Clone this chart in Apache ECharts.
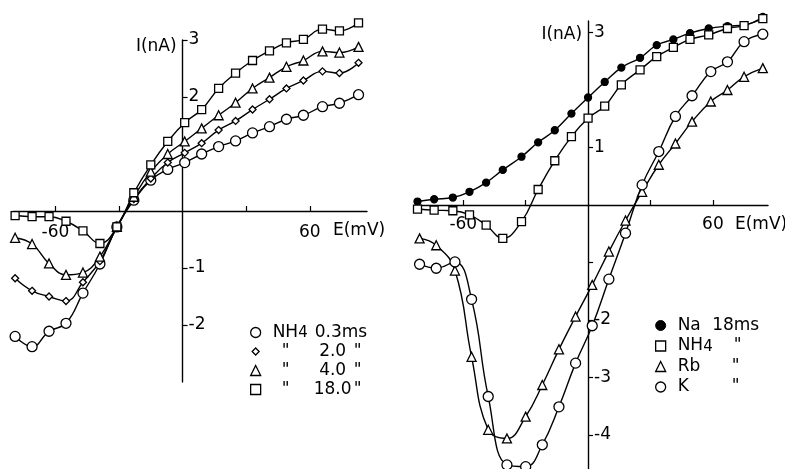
<!DOCTYPE html>
<html>
<head>
<meta charset="utf-8">
<script src="https://cdn.jsdelivr.net/npm/echarts@6/dist/echarts.min.js"></script>
<style>
  html, body { margin: 0; padding: 0; background: #fff; }
  #chart { width: 785px; height: 469px; }
</style>
</head>
<body>
<div id="chart"></div>
<script>
// left panel: NH4 currents at several times after the step
const leftE = [-79, -71, -63, -55, -47, -39, -31, -23, -15, -7, 1, 9, 17, 25, 33, 41, 49, 57, 66, 74, 83];
const nh4_03 = [-2.20, -2.38, -2.11, -1.97, -1.44, -0.93, -0.28, 0.19, 0.54, 0.73, 0.85, 1.00, 1.13, 1.23, 1.37, 1.48, 1.61, 1.68, 1.83, 1.89, 2.04];
const nh4_20 = [-1.18, -1.40, -1.50, -1.58, -1.25, -0.88, -0.28, 0.21, 0.57, 0.85, 1.02, 1.19, 1.42, 1.58, 1.78, 1.96, 2.15, 2.29, 2.45, 2.42, 2.60];
const nh4_40 = [-0.47, -0.58, -0.92, -1.12, -1.08, -0.80, -0.28, 0.25, 0.69, 1.00, 1.22, 1.45, 1.68, 1.90, 2.15, 2.34, 2.53, 2.64, 2.80, 2.78, 2.88];
const nh4_180 = [-0.08, -0.10, -0.10, -0.18, -0.35, -0.57, -0.28, 0.32, 0.81, 1.22, 1.55, 1.78, 2.15, 2.42, 2.64, 2.81, 2.95, 3.01, 3.19, 3.16, 3.30];

// right panel: different ions at 18 ms
const rightE1 = [-82, -74, -65, -57, -49, -41, -32, -24, -16, -8, 0, 8, 16, 25, 33, 41, 49, 58, 67, 75, 84];
const rightE2 = [-81, -73, -64, -56, -48, -39, -30, -22, -14, -6, 2, 10, 18, 26, 34, 42, 50, 59, 67, 75, 84];
const na18 = [0.06, 0.10, 0.13, 0.23, 0.39, 0.61, 0.84, 1.09, 1.30, 1.59, 1.87, 2.14, 2.39, 2.56, 2.78, 2.88, 2.99, 3.07, 3.11, 3.13, 3.27];
const nh4r18 = [-0.07, -0.09, -0.10, -0.17, -0.35, -0.58, -0.29, 0.27, 0.77, 1.19, 1.51, 1.72, 2.09, 2.35, 2.58, 2.74, 2.88, 2.96, 3.07, 3.12, 3.24];
const rb18 = [-0.58, -0.70, -1.14, -2.64, -3.91, -4.06, -3.68, -3.13, -2.51, -1.94, -1.39, -0.81, -0.27, 0.23, 0.70, 1.07, 1.45, 1.80, 2.00, 2.23, 2.38];
const k18 = [-1.03, -1.10, -0.99, -1.64, -3.33, -4.52, -4.55, -4.17, -3.51, -2.75, -2.10, -1.29, -0.49, 0.35, 0.93, 1.54, 1.90, 2.32, 2.49, 2.84, 2.97];

// tick / label values
const xTicks = [-60, -30, 30, 60];
const xLabels = [-60, 60];
const leftYTicks = [3, 2, -1, -2];
const leftYLabels = [3, 2, -1, -2];
const rightYTicks = [3, 1, -1, -2, -3, -4];
const rightYLabels = [3, 1, -2, -3, -4];

const FONT = 'DejaVu Sans';
const INK = '#000';
const smallDiamond = 'path://M0,0M10,10M5,1.5L8.5,5L5,8.5L1.5,5Z';

// panel boxes (px) and axis ranges
const panels = [
  { left: 13, top: 40, width: 354, height: 342, xMin: -80, xMax: 87, yMin: -3, yMax: 3 },
  { left: 415, top: 21, width: 353, height: 448.5, xMin: -83.2, xMax: 86.5, yMin: -4.6, yMax: 3.2 },
];

const chart = echarts.init(document.getElementById('chart'));

function makeSeries(name, xs, ys, idx, symbol, size, fill) {
  return {
    name,
    type: 'line',
    xAxisIndex: idx,
    yAxisIndex: idx,
    data: xs.map((x, i) => [x, ys[i]]),
    smooth: 0.45,
    clip: false,
    symbol,
    symbolSize: size,
    showAllSymbol: true,
    lineStyle: { color: INK, width: 1.4 },
    itemStyle: { color: fill, borderColor: INK, borderWidth: 1.3 },
    emphasis: { disabled: true },
  };
}

// axes cross at zero: shift them from the grid edge with offset
function xAxisFor(idx, margin, nameGap) {
  const p = panels[idx];
  return {
    type: 'value',
    gridIndex: idx,
    min: p.xMin,
    max: p.xMax,
    position: 'bottom',
    offset: -p.height * (0 - p.yMin) / (p.yMax - p.yMin),
    axisLine: { onZero: false, lineStyle: { color: INK, width: 1.4 } },
    axisTick: { show: true, inside: true, length: 5, customValues: xTicks, lineStyle: { color: INK, width: 1.2 } },
    axisLabel: { customValues: xLabels, margin, color: INK, fontSize: 17, fontFamily: FONT },
    splitLine: { show: false },
    name: 'E(mV)',
    nameLocation: 'end',
    nameGap,
    nameMoveOverlap: false,
    nameTextStyle: { color: INK, fontSize: 17, fontFamily: FONT, align: 'left', verticalAlign: 'top', padding: [11, 0, 0, 0] },
  };
}

function yAxisFor(idx, ticks, labels, nameGap) {
  const p = panels[idx];
  return {
    type: 'value',
    gridIndex: idx,
    min: p.yMin,
    max: p.yMax,
    position: 'right',
    offset: -p.width * p.xMax / (p.xMax - p.xMin),
    axisLine: { onZero: false, lineStyle: { color: INK, width: 1.4 } },
    axisTick: { show: true, length: 5, customValues: ticks, lineStyle: { color: INK, width: 1.2 } },
    axisLabel: { customValues: labels, margin: 6, color: INK, fontSize: 17, fontFamily: FONT },
    splitLine: { show: false },
    name: 'I(nA)',
    nameLocation: 'end',
    nameGap,
    nameMoveOverlap: false,
    nameTextStyle: { color: INK, fontSize: 17, fontFamily: FONT, align: 'right', verticalAlign: 'middle', padding: [0, 6, 0, 0] },
  };
}

const openStyle = { color: '#fff', borderColor: INK, borderWidth: 1.3 };
const txt = (extra) => Object.assign({ fontSize: 17, fontFamily: FONT, color: INK, lineHeight: 17 }, extra);
const subStyle = { fontSize: 15, fontFamily: FONT, color: INK, lineHeight: 6, verticalAlign: 'bottom' };

const leftLegendText = {
  'NH4 0.3 ms': '{p| }{n|NH}{s|4}{q| }{b|0.3ms}',
  'NH4 2.0 ms': '{a|"}{q| }{b2|2.0}{c|"}',
  'NH4 4.0 ms': '{a|"}{q| }{b2|4.0}{c|"}',
  'NH4 18.0 ms': '{a|"}{q| }{b2|18.0}{c|"}',
};
const rightLegendText = {
  'Na 18 ms': '{p| }{a|Na}{b|18ms}',
  'NH4 18 ms': '{p| }{n|NH}{s|4}{b|"}',
  'Rb 18 ms': '{p| }{a|Rb}{b|"}',
  'K 18 ms': '{p| }{a|K}{b|"}',
};

chart.setOption({
  animation: false,
  backgroundColor: '#fff',
  grid: panels.map((p) => ({
    left: p.left, top: p.top, width: p.width, height: p.height,
    containLabel: false, outerBoundsMode: 'none',
  })),
  xAxis: [xAxisFor(0, 13, -34), xAxisFor(1, 11, -33)],
  yAxis: [
    yAxisFor(0, leftYTicks, leftYLabels, -7),
    yAxisFor(1, rightYTicks, rightYLabels, -14),
  ],
  legend: [
    {
      orient: 'vertical',
      left: 250,
      top: 324,
      padding: 0,
      itemWidth: 10,
      itemHeight: 10,
      itemGap: 2,
      selectedMode: false,
      data: [
        { name: 'NH4 0.3 ms', icon: 'circle', itemStyle: openStyle },
        { name: 'NH4 2.0 ms', icon: smallDiamond, itemStyle: openStyle },
        { name: 'NH4 4.0 ms', icon: 'triangle', itemStyle: openStyle },
        { name: 'NH4 18.0 ms', icon: 'rect', itemStyle: openStyle },
      ],
      formatter: (name) => leftLegendText[name],
      textStyle: {
        fontSize: 17, fontFamily: FONT, color: INK,
        rich: {
          p: txt({ width: 7 }),
          n: txt({}),
          s: subStyle,
          q: txt({ width: 7 }),
          a: txt({ width: 40, align: 'center' }),
          b: txt({}),
          b2: txt({ width: 40, align: 'left' }),
          c: txt({ width: 10, align: 'center' }),
        },
      },
    },
    {
      orient: 'vertical',
      left: 655,
      top: 317,
      padding: 0,
      itemWidth: 10,
      itemHeight: 10,
      itemGap: 3.5,
      selectedMode: false,
      data: [
        { name: 'Na 18 ms', icon: 'circle', itemStyle: { color: INK, borderColor: INK, borderWidth: 1 } },
        { name: 'NH4 18 ms', icon: 'rect', itemStyle: openStyle },
        { name: 'Rb 18 ms', icon: 'triangle', itemStyle: openStyle },
        { name: 'K 18 ms', icon: 'circle', itemStyle: openStyle },
      ],
      formatter: (name) => rightLegendText[name],
      textStyle: {
        fontSize: 17, fontFamily: FONT, color: INK,
        rich: {
          p: txt({ width: 7 }),
          n: txt({}),
          s: subStyle,
          a: txt({ width: 33, align: 'left' }),
          b: txt({ width: 50, align: 'center' }),
        },
      },
    },
  ],
  series: [
    makeSeries('NH4 0.3 ms', leftE, nh4_03, 0, 'circle', 10, '#fff'),
    makeSeries('NH4 2.0 ms', leftE, nh4_20, 0, 'diamond', 7, '#fff'),
    makeSeries('NH4 4.0 ms', leftE, nh4_40, 0, 'triangle', 9, '#fff'),
    makeSeries('NH4 18.0 ms', leftE, nh4_180, 0, 'rect', 8, '#fff'),
    makeSeries('Na 18 ms', rightE1, na18, 1, 'circle', 7, INK),
    makeSeries('NH4 18 ms', rightE1, nh4r18, 1, 'rect', 8, '#fff'),
    makeSeries('Rb 18 ms', rightE2, rb18, 1, 'triangle', 9, '#fff'),
    makeSeries('K 18 ms', rightE2, k18, 1, 'circle', 10, '#fff'),
  ],
});
</script>
</body>
</html>
